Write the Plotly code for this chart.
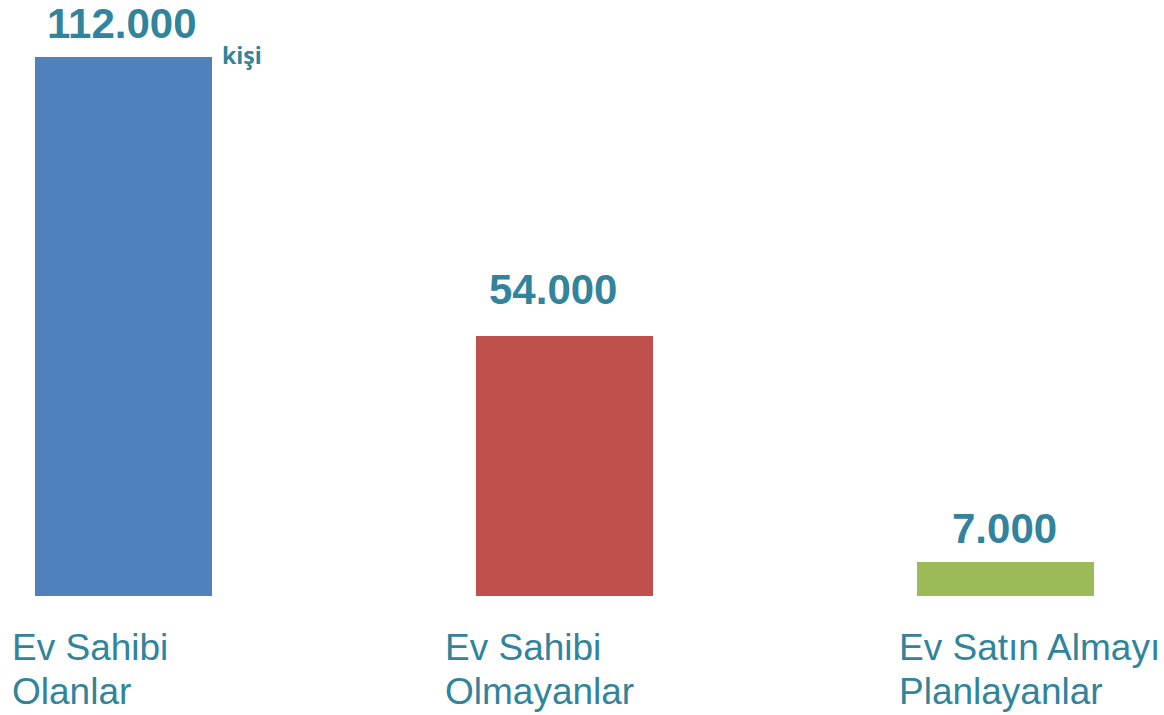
import plotly.graph_objects as go

categories_line1 = ["Ev Sahibi", "Ev Sahibi", "Ev Satın Almayı"]
categories_line2 = ["Olanlar", "Olmayanlar", "Planlayanlar"]
values = [112000, 54000, 7000]
value_labels = ["112.000", "54.000", "7.000"]
unit_label = "kişi"

bar_colors = ["#4F81BD", "#C0504D", "#9BBB59"]
text_color = "#31849B"
value_yshift = [8, 21, 8]
value_xshift = [-1, -11, -1]
label_xshift = [-113, -121, -109]

x = list(range(len(values)))

fig = go.Figure()
fig.add_trace(go.Bar(
    x=x, y=values, marker=dict(color=bar_colors, line=dict(width=0)),
    width=0.401, hoverinfo="skip", showlegend=False,
))

ann = []
for i, v in enumerate(values):
    ann.append(dict(x=i, y=v, xref="x", yref="y", text=f"<b>{value_labels[i]}</b>",
                    showarrow=False, yanchor="bottom", xanchor="center",
                    yshift=value_yshift[i], xshift=value_xshift[i],
                    font=dict(family="Liberation Sans, Arial", size=42, color=text_color)))
    ann.append(dict(x=i, y=0, xref="x", yref="paper", text=categories_line1[i],
                    showarrow=False, yanchor="top", xanchor="left",
                    xshift=label_xshift[i], yshift=-29,
                    font=dict(family="Liberation Sans, Arial", size=37, color=text_color)))
    ann.append(dict(x=i, y=0, xref="x", yref="paper", text=categories_line2[i],
                    showarrow=False, yanchor="top", xanchor="left",
                    xshift=label_xshift[i], yshift=-73,
                    font=dict(family="Liberation Sans, Arial", size=37, color=text_color)))

ann.append(dict(x=0, y=values[0], xref="x", yref="y", text=f"<b>{unit_label}</b>",
                showarrow=False, yanchor="middle", xanchor="left", xshift=97, yshift=2,
                font=dict(family="Open Sans, Noto Sans", size=23, color=text_color)))

fig.update_layout(
    width=1164, height=715,
    margin=dict(l=0, r=0, t=0, b=119),
    plot_bgcolor="white", paper_bgcolor="white",
    xaxis=dict(range=[-0.2800, 2.3594], visible=False, fixedrange=True),
    yaxis=dict(range=[0, 123844], visible=False, fixedrange=True),
    annotations=ann,
    bargap=0,
)

fig.write_html("out.html", config={"displayModeBar": False},
               post_script="document.body.style.margin='0';document.body.style.overflow='hidden';")
